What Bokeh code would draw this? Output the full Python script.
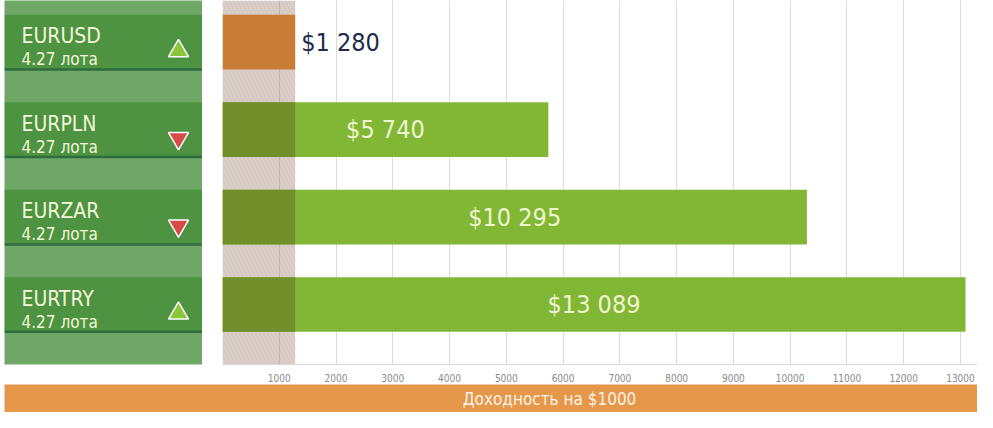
from bokeh.plotting import figure
from bokeh.models import ColumnDataSource, Range1d, FixedTicker
from bokeh.transform import dodge
from bokeh.layouts import column, row
from bokeh.core.properties import value
from bokeh.embed import file_html
from bokeh.resources import INLINE

# ---------------- data ----------------
pairs = ["EURUSD", "EURPLN", "EURZAR", "EURTRY"]
lots = ["4.27 лота", "4.27 лота", "4.27 лота", "4.27 лота"]
directions = ["up", "down", "down", "up"]
returns = [1280, 5740, 10295, 13089]
highlight_end = 1280
tick_values = [1000, 2000, 3000, 4000, 5000, 6000, 7000, 8000, 9000, 10000, 11000, 12000, 13000]
footer_text = "Доходность на $1000"

FONT = "DejaVu Sans Condensed"

# ---------------- derived ----------------
ypos = list(range(len(pairs)))
bar_h = 0.624
y_bottom, y_top = len(pairs) - 1 + 0.685, -0.476

bar_colors = ["#c97c35" if v <= highlight_end else "#82b735" for v in returns]
labels = ["$" + f"{v:,}".replace(",", " ") for v in returns]

src = ColumnDataSource(dict(
    y=ypos, v=returns, color=bar_colors, label=labels,
    pair=pairs, lot=lots,
    marker=["triangle" if d == "up" else "inverted_triangle" for d in directions],
    mcolor=["#8cc43c" if d == "up" else "#d64b46" for d in directions],
    line_y=[y + bar_h / 2 for y in ypos],
))

green = [i for i, v in enumerate(returns) if v > highlight_end]
ov_src = ColumnDataSource(dict(
    y=[ypos[i] for i in green],
    right=[min(highlight_end, returns[i]) for i in green],
))
inside = [i for i, v in enumerate(returns) if v > 3000]
outside = [i for i, v in enumerate(returns) if v <= 3000]
in_src = ColumnDataSource(dict(x=[returns[i] / 2 for i in inside], y=[ypos[i] for i in inside],
                               t=[labels[i] for i in inside]))
out_src = ColumnDataSource(dict(x=[returns[i] for i in outside], y=[ypos[i] for i in outside],
                                t=[labels[i] for i in outside]))

# ---------------- left panel ----------------
LW = 198
left = figure(width=LW + 4, height=384, x_range=Range1d(0, LW), y_range=Range1d(y_bottom, y_top),
              toolbar_location=None, output_backend="svg", min_border=0,
              min_border_left=4, min_border_bottom=15)
left.axis.visible = False
left.grid.visible = False
left.outline_line_color = None
left.background_fill_color = "#6fa866"
left.border_fill_color = "white"
left.hbar(y="y", left=0, right=LW, height=bar_h, source=src, fill_color="#4d9341", line_color=None)
left.segment(x0=0, x1=LW, y0="line_y", y1="line_y", source=src, line_color="#2e6b3e", line_width=2.5)
left.text(x=17, y="y", text="pair", source=src, text_font=value(FONT), text_font_size="21px",
          text_color="#f4f6d8", text_baseline="middle", y_offset=-6)
left.text(x=17, y="y", text="lot", source=src, text_font=value(FONT), text_font_size="17px",
          text_color="#f4f6d8", text_baseline="middle", y_offset=17)
left.scatter(x=174, y=dodge("y", 0.1, range=left.y_range), marker="marker", source=src,
             size=20, fill_color="mcolor", line_color="white", line_width=1.5)

# ---------------- main chart ----------------
p = figure(width=775, height=384, x_range=Range1d(0, 13300), y_range=Range1d(y_bottom, y_top),
           toolbar_location=None, output_backend="svg", min_border=0,
           min_border_left=20, min_border_bottom=15)
p.outline_line_color = None
p.yaxis.visible = False
p.ygrid.visible = False
p.xgrid.ticker = FixedTicker(ticks=tick_values)
p.xgrid.grid_line_color = "#dcdcdc"
p.xaxis.ticker = FixedTicker(ticks=tick_values)
p.xaxis.axis_line_color = "#d8d8d8"
p.xaxis.major_tick_line_color = None
p.xaxis.minor_tick_line_color = None
p.xaxis.major_label_text_font = FONT
p.xaxis.major_label_text_font_size = "10px"
p.xaxis.major_label_text_color = "#8a8a8a"
p.xaxis.major_label_standoff = 3

p.quad(left=0, right=highlight_end, bottom=y_bottom, top=y_top,
       fill_color="#8f6a58", fill_alpha=0.33, line_color=None,
       hatch_pattern="left_diagonal_line", hatch_color="#8f6a58", hatch_alpha=0.08,
       hatch_scale=8, hatch_weight=1)
p.hbar(y="y", left=0, right="v", height=bar_h, source=src, fill_color="color", line_color=None)
p.hbar(y="y", left=0, right="right", height=bar_h, source=ov_src, fill_color="#738f2b", line_color=None)
p.text(x="x", y="y", text="t", source=in_src, text_font=value(FONT), text_font_size="25px",
       text_color="#eef5d0", text_align="center", text_baseline="middle")
p.text(x="x", y="y", text="t", source=out_src, text_font=value(FONT), text_font_size="25px",
       text_color="#1e2b4a", text_align="left", text_baseline="middle", x_offset=6)

# ---------------- footer ----------------
b = figure(width=977, height=28, x_range=Range1d(0, 973), y_range=Range1d(0, 1),
           toolbar_location=None, output_backend="svg", min_border=0, min_border_left=4)
b.axis.visible = False
b.grid.visible = False
b.outline_line_color = None
b.background_fill_color = "#e5984a"
b.border_fill_color = "white"
b.text(x=545, y=0.5, text=[footer_text], text_font=value(FONT), text_font_size="17px",
       text_color="#fdf3e6", text_align="center", text_baseline="middle")

layout = column(row(left, p), b)
open("out.html", "w").write(file_html(layout, INLINE))
